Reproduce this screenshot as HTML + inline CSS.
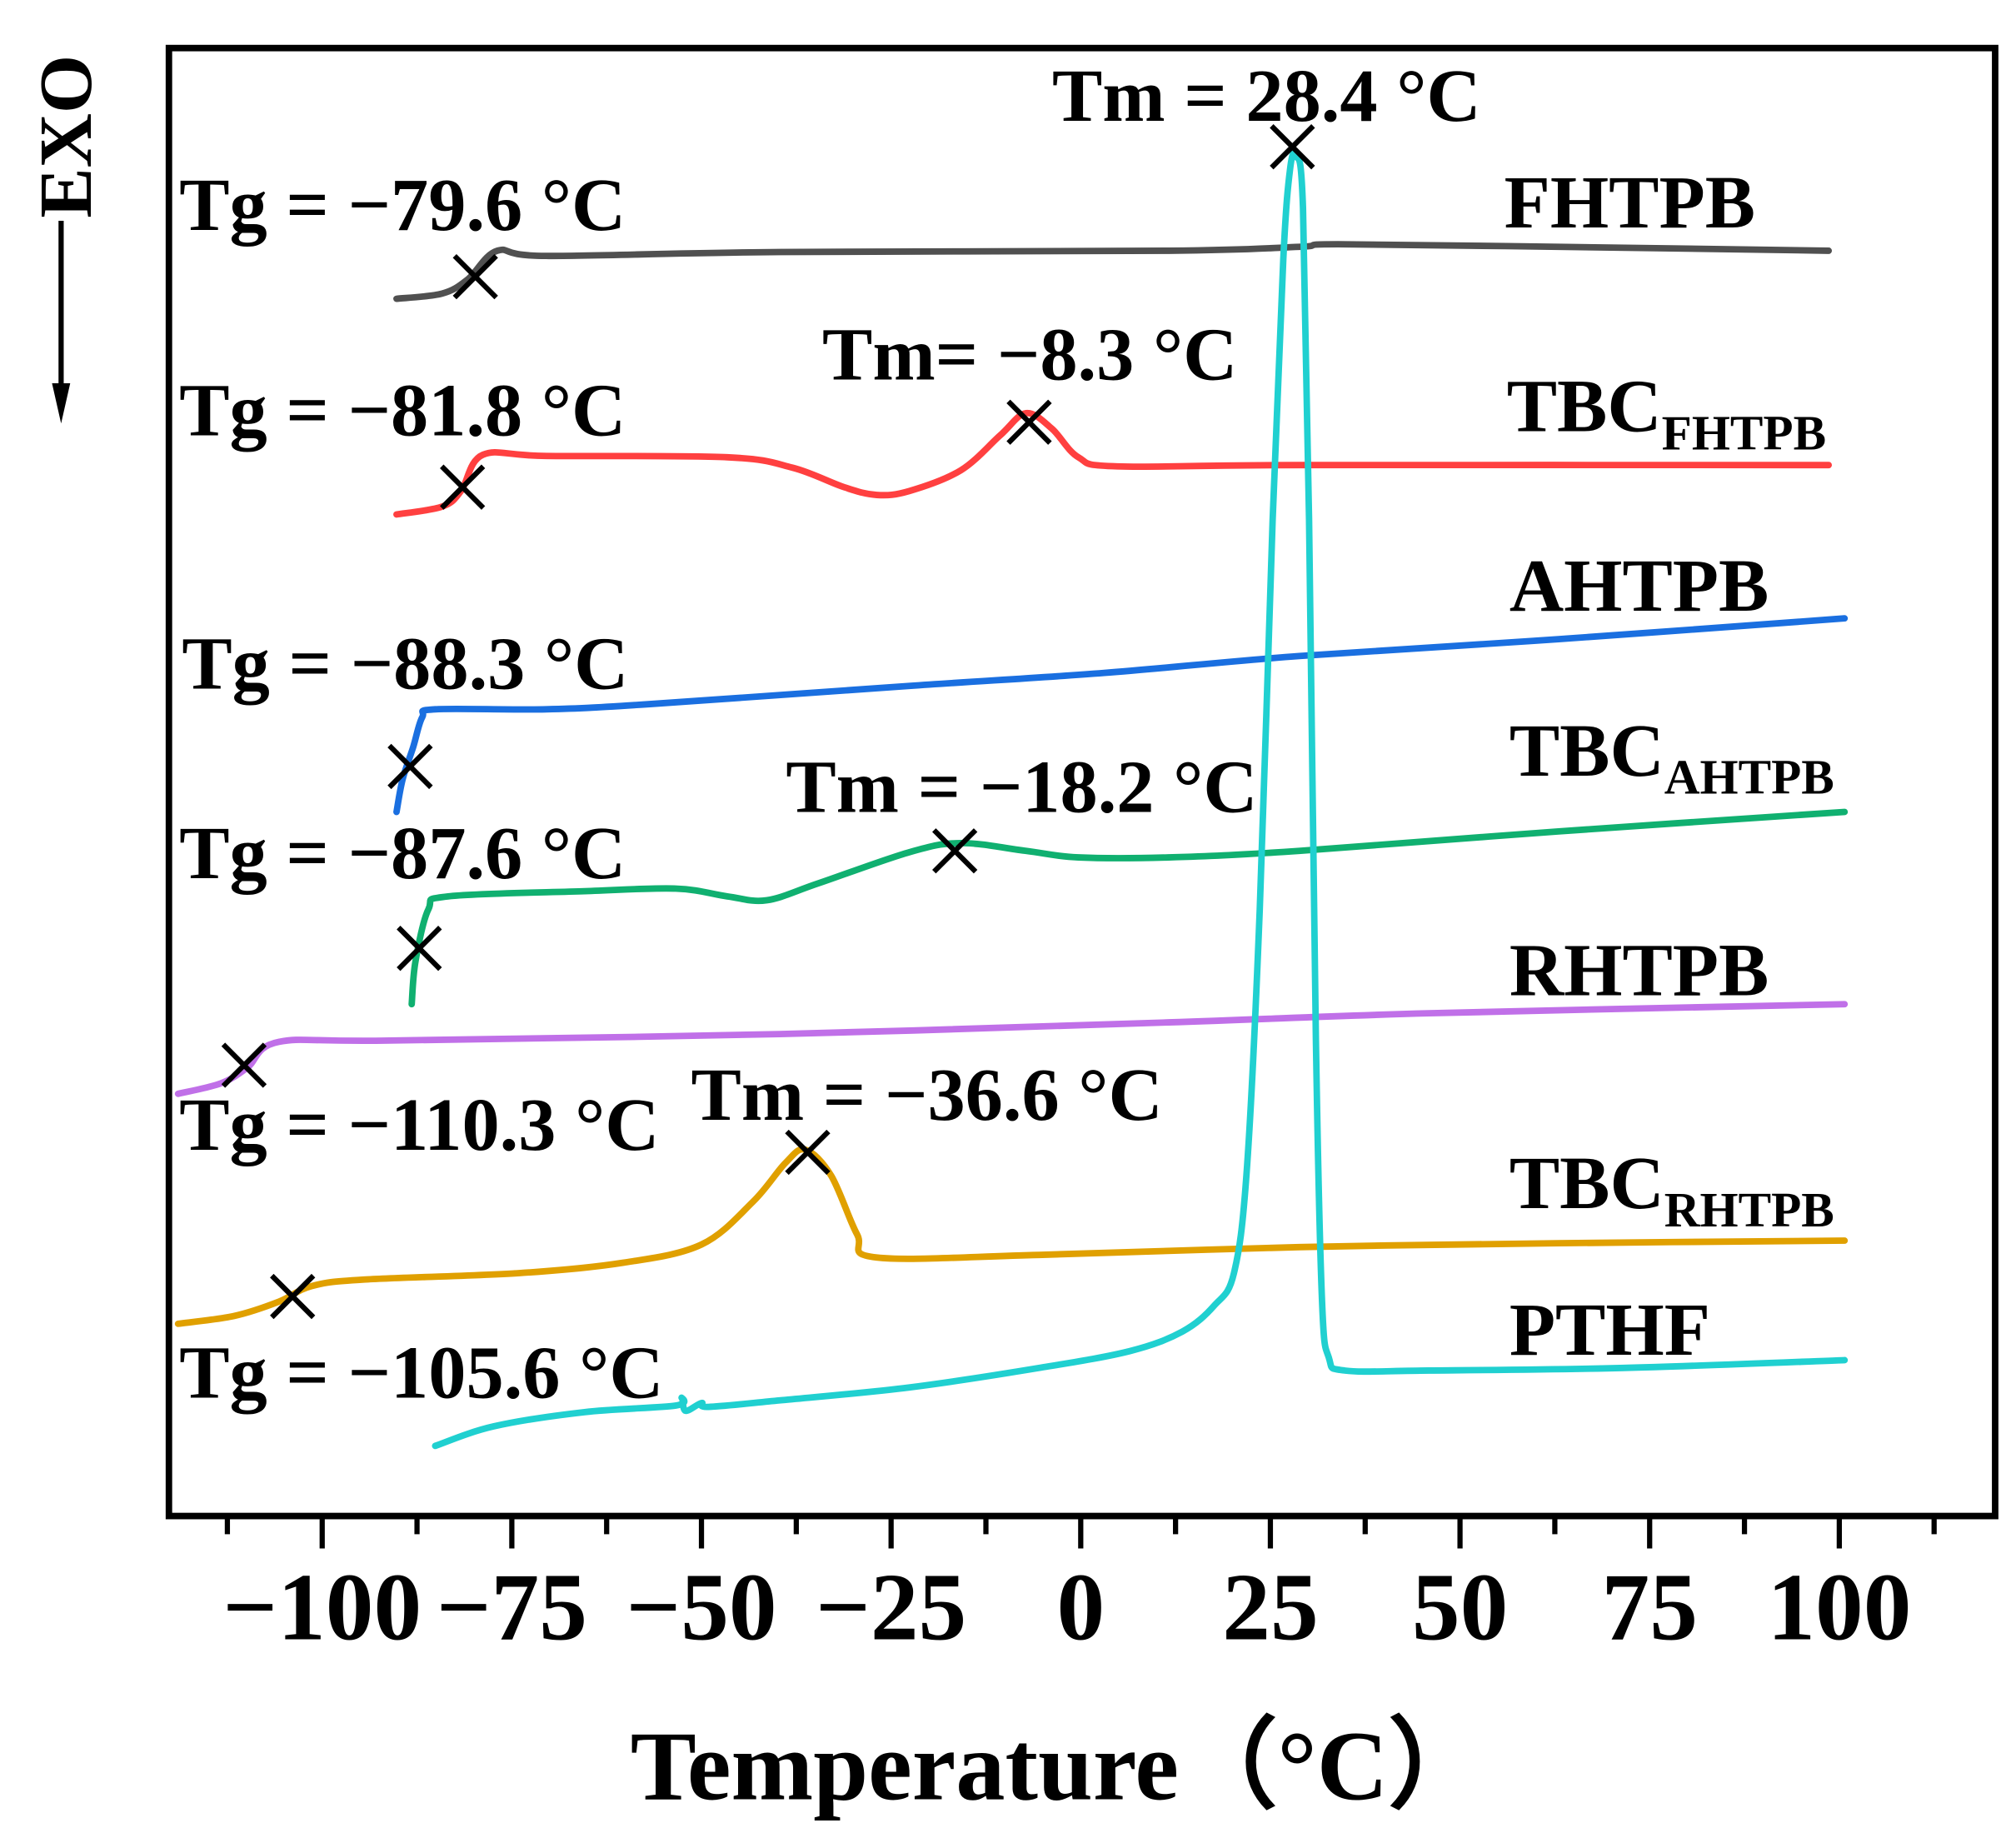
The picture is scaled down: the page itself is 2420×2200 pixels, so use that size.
<!DOCTYPE html>
<html><head><meta charset="utf-8"><style>
html,body{margin:0;padding:0;background:#fff}
svg{display:block}
text{font-family:"Liberation Serif",serif;font-weight:bold;fill:#000}
</style></head><body>
<svg id="chart" width="2420" height="2200" viewBox="0 0 1552 1411" xmlns="http://www.w3.org/2000/svg">
<rect x="130" y="37" width="1406" height="1130" fill="none" stroke="#000" stroke-width="5"/>
<g id="xticks"></g>
<g id="series"></g>
<g id="markers"></g>
<text x="815" y="1385" font-size="76" text-anchor="middle">Temperature（°C）</text>
<text transform="translate(70,105) rotate(-90)" font-size="58" text-anchor="middle">EXO</text>
<line x1="47" y1="170" x2="47" y2="300" stroke="#000" stroke-width="4"/>
<polygon points="40,295 54,295 47,326" fill="#000"/>
<g>
<text x="138" y="177" font-size="58">Tg = −79.6 °C</text>
<text x="138" y="335" font-size="58">Tg = −81.8 °C</text>
<text x="140" y="530" font-size="58">Tg = −88.3 °C</text>
<text x="138" y="676" font-size="58">Tg = −87.6 °C</text>
<text x="138" y="885" font-size="58">Tg = −110.3 °C</text>
<text x="138" y="1076" font-size="58">Tg = −105.6 °C</text>
<text x="810" y="93" font-size="58">Tm = 28.4 °C</text>
<text x="633" y="292" font-size="58">Tm= −8.3 °C</text>
<text x="605" y="625" font-size="58">Tm = −18.2 °C</text>
<text x="532" y="862" font-size="58">Tm = −36.6 °C</text>
<text x="1158" y="175" font-size="58">FHTPB</text>
<text x="1160" y="332" font-size="58">TBC<tspan font-size="38" dy="14">FHTPB</tspan></text>
<text x="1162" y="470" font-size="58">AHTPB</text>
<text x="1162" y="597" font-size="58">TBC<tspan font-size="38" dy="14">AHTPB</tspan></text>
<text x="1162" y="766" font-size="58">RHTPB</text>
<text x="1162" y="930" font-size="58">TBC<tspan font-size="38" dy="14">RHTPB</tspan></text>
<text x="1162" y="1043" font-size="58">PTHF</text>
</g>
</svg>
<script>
const tickValues = [-100,-75,-50,-25,0,25,50,75,100];
const tickLabels = ["−100","−75","−50","−25","0","25","50","75","100"];
const minorTicks = [-112.5,-87.5,-62.5,-37.5,-12.5,12.5,37.5,62.5,87.5,112.5];

const fhtpbT = [-90.2,-84.2,-80.8,-76.9,-70.5,-39.7,11.6,28.8,33.9,63.0,98.6];
const fhtpbV = [937,941,952,974,970,973,974,977,979,977,974];
const tbcFhtpbT = [-90.2,-84.2,-81.7,-78.8,-70.5,-46.6,-38.0,-31.2,-26.9,-22.6,-15.8,-10.6,-7.2,-3.8,-0.3,4.8,28.8,98.6];
const tbcFhtpbV = [771,777,789,817,816,815,807,792,786,789,805,832,849,837,815,808,809,809];
const ahtpbT = [-90.2,-89.4,-88.0,-86.8,-85.1,-70.5,-56.8,-22.6,3.1,28.8,63.0,100.7];
const ahtpbV = [542,567,592,615,621,621,625,639,649,662,675,691];
const tbcAhtpbT = [-88.2,-87.7,-86.0,-83.4,-65.4,-53.4,-46.6,-41.4,-34.6,-22.6,-15.8,-7.2,-0.3,11.6,28.8,63.0,100.7];
const tbcAhtpbV = [394,427,467,477,481,483,477,474,487,511,518,512,507,507,512,527,542];
const rhtpbT = [-119.0,-113.4,-109.9,-105.7,-91.1,-39.7,11.6,45.9,100.7];
const rhtpbV = [325,333,345,365,366,371,380,387,394];
const tbcRhtpbT = [-119.0,-111.6,-105.7,-101.4,-94.5,-74.0,-60.3,-50.0,-43.2,-38.9,-36.3,-32.9,-29.5,-26.9,-5.5,28.8,63.0,100.7];
const tbcRhtpbV = [148,154,165,177,182,187,195,209,242,272,282,262,217,199,201,207,210,212];
const pthfT = [-85.1,-77.4,-65.4,-53.4,-52.6,-52.1,-50.0,-49.1,-39.7,-22.6,-5.5,6.5,13.4,17.6,20.2,21.9,23.6,25.3,26.7,27.6,28.4,29.3,30.1,31.0,31.8,32.7,34.8,45.9,71.6,100.7];
const pthfV = [54,69,80,85,91,81,87,84,89,99,114,127,142,162,187,267,467,767,967,1037,1047,1007,767,367,167,122,112,112,114,120];

const markerT = [-79.8,-81.5,-88.4,-87.2,-110.3,-103.9,-6.8,-16.6,-36.0,27.9];
const markerV = [954,792,577,437,347,169,842,512,280,1054];

const NS = "http://www.w3.org/2000/svg";
function xs(t){ return 832 + t*5.84; }
function ys(v){ return 1167 - v; }

const gx = document.getElementById('xticks');
tickValues.forEach((t,i)=>{
  const l = document.createElementNS(NS,'line');
  
  
  l.setAttribute('x1',xs(t)); l.setAttribute('x2',xs(t));
  l.setAttribute('y1',1167); l.setAttribute('y2',1192);
  l.setAttribute('stroke','#000'); l.setAttribute('stroke-width','4');
  gx.appendChild(l);
  const tx = document.createElementNS(NS,'text');
  
  
  tx.setAttribute('x',xs(t)); tx.setAttribute('y',1262);
  tx.setAttribute('font-size','74'); tx.setAttribute('text-anchor','middle');
  tx.textContent = tickLabels[i];
  gx.appendChild(tx);
});
minorTicks.forEach(t=>{
  const l = document.createElementNS(NS,'line');
  
  
  l.setAttribute('x1',xs(t)); l.setAttribute('x2',xs(t));
  l.setAttribute('y1',1167); l.setAttribute('y2',1181);
  l.setAttribute('stroke','#000'); l.setAttribute('stroke-width','4');
  gx.appendChild(l);
});

function smoothPath(pts){
  let d = 'M'+pts[0][0]+','+pts[0][1];
  for(let i=0;i<pts.length-1;i++){
    const p0 = pts[i-1]||pts[i], p1 = pts[i], p2 = pts[i+1], p3 = pts[i+2]||p2;
    const c1x = p1[0]+(p2[0]-p0[0])/6, c1y = p1[1]+(p2[1]-p0[1])/6;
    const c2x = p2[0]-(p3[0]-p1[0])/6, c2y = p2[1]-(p3[1]-p1[1])/6;
    d += `C${c1x},${c1y} ${c2x},${c2y} ${p2[0]},${p2[1]}`;
  }
  return d;
}

const series = [
  ['fhtpb-curve',fhtpbT,fhtpbV,'#505050'],
  ['tbc-fhtpb-curve',tbcFhtpbT,tbcFhtpbV,'#ff4040'],
  ['ahtpb-curve',ahtpbT,ahtpbV,'#1a6fe0'],
  ['tbc-ahtpb-curve',tbcAhtpbT,tbcAhtpbV,'#10b070'],
  ['rhtpb-curve',rhtpbT,rhtpbV,'#c070e8'],
  ['tbc-rhtpb-curve',tbcRhtpbT,tbcRhtpbV,'#e0a000'],
  ['pthf-curve',pthfT,pthfV,'#20d0d0']
];
const gs = document.getElementById('series');
series.forEach(s=>{
  const p = document.createElementNS(NS,'path');
  
  
  p.setAttribute('d', smoothPath(s[1].map((t,i)=>[xs(t), ys(s[2][i])])));
  p.setAttribute('fill','none'); p.setAttribute('stroke',s[3]);
  p.setAttribute('stroke-width','5'); p.setAttribute('stroke-linejoin','round'); p.setAttribute('stroke-linecap','round');
  gs.appendChild(p);
});
const gm = document.getElementById('markers');
markerT.forEach((t,i)=>{
  const cx = xs(t), cy = ys(markerV[i]), r = 16;
  const p = document.createElementNS(NS,'path');
  
  
  p.setAttribute('d',`M${cx-r},${cy-r}L${cx+r},${cy+r}M${cx+r},${cy-r}L${cx-r},${cy+r}`);
  p.setAttribute('stroke','#000'); p.setAttribute('stroke-width','4');
  gm.appendChild(p);
});
</script>
</body></html>
